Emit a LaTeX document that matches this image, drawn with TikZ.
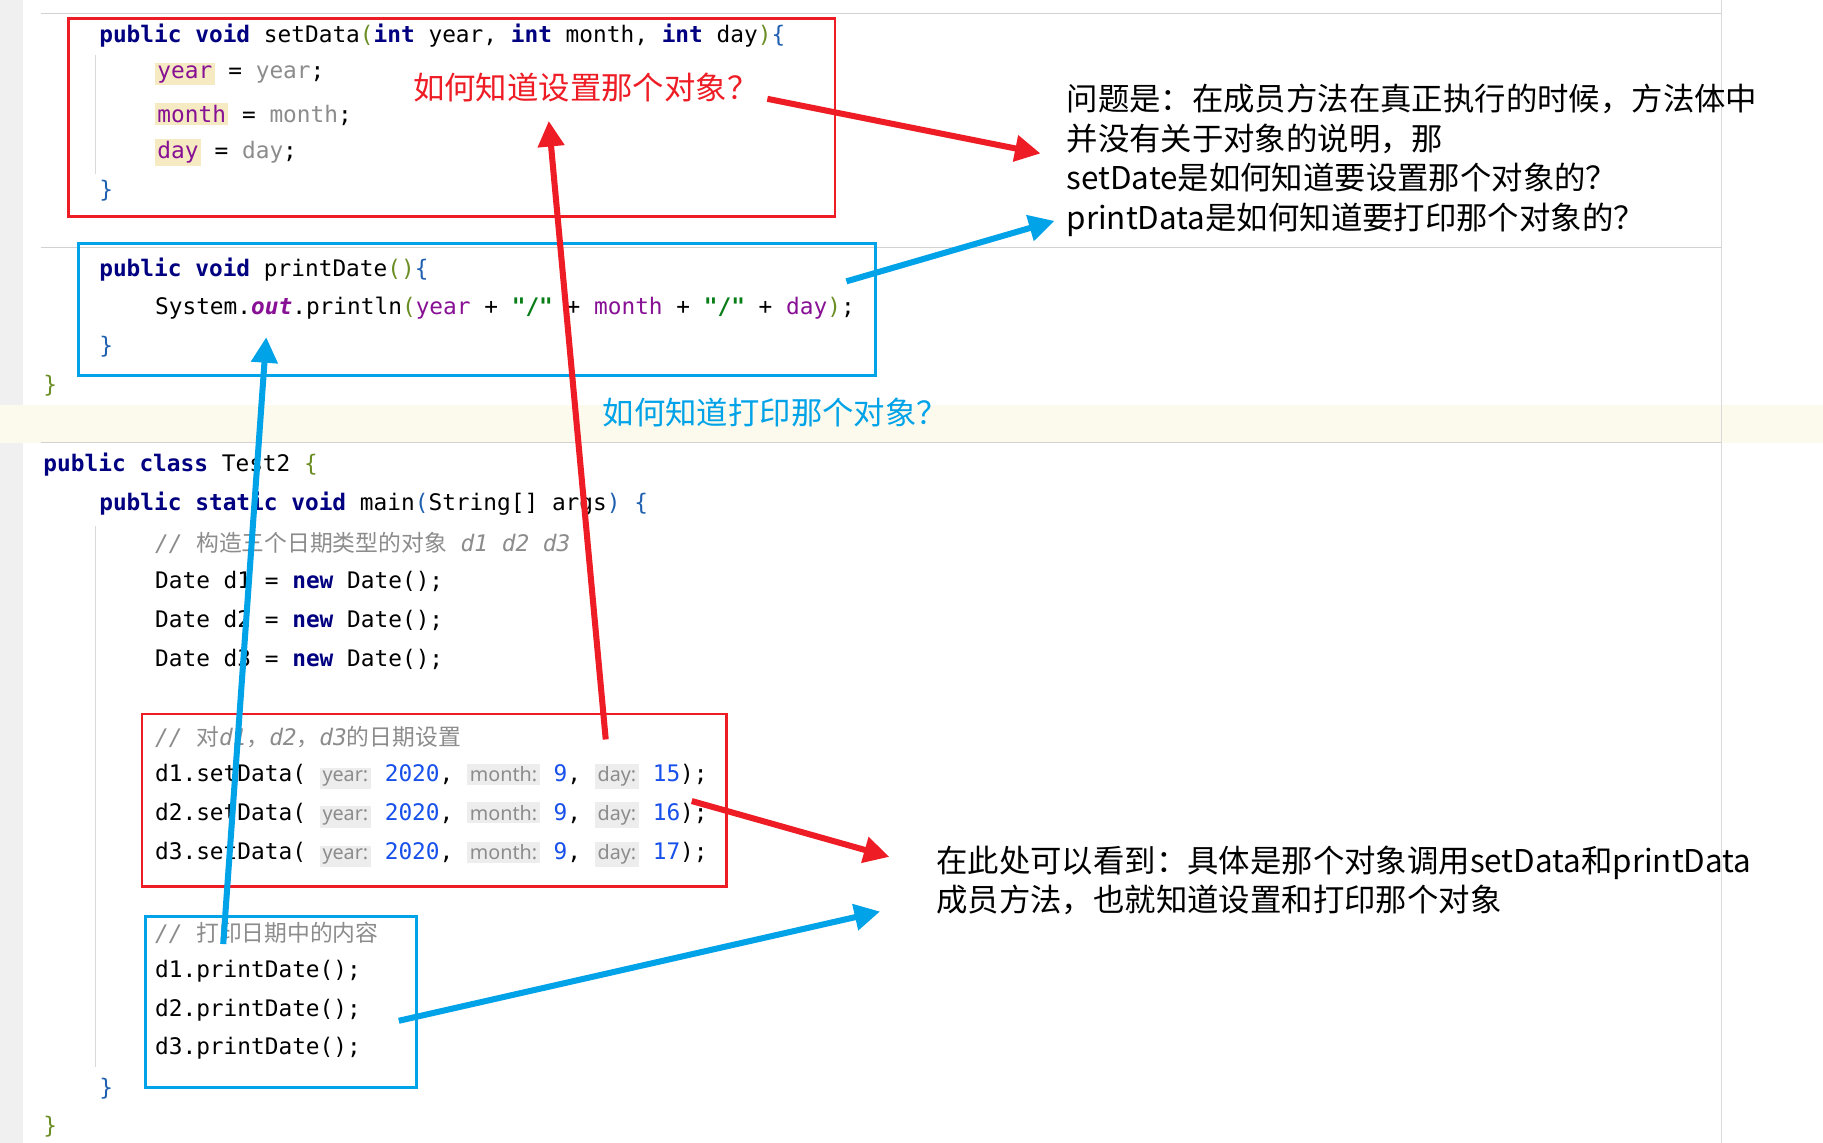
\documentclass[tikz,border=0pt]{standalone}
\usepackage{fontspec}
\setmonofont{DejaVu Sans Mono}
\setsansfont{Noto Sans}
\newfontfamily\cjk{Noto Sans CJK SC}
\usetikzlibrary{arrows.meta}
\definecolor{kw}{HTML}{0033B3}
\definecolor{kwd}{HTML}{000080}
\definecolor{num}{HTML}{1750EB}
\definecolor{str}{HTML}{067D17}
\definecolor{fld}{HTML}{871094}
\definecolor{cmt}{HTML}{8C8C8C}
\definecolor{hintbg}{HTML}{EDEDED}
\definecolor{hl}{HTML}{F5EAC1}
\definecolor{rowhl}{HTML}{FCFAED}
\definecolor{bA}{HTML}{6A8E23}
\definecolor{bB}{HTML}{1F5FAF}
\definecolor{myred}{HTML}{EE1C25}
\definecolor{myblue}{HTML}{00A2E8}
\newcommand{\K}[1]{{\bfseries\color{kwd}#1}}
\newcommand{\N}[1]{{\color{num}#1}}
\newcommand{\F}[1]{{\color{fld}#1}}
\newcommand{\Hn}[1]{{\setlength\fboxsep{1.2pt}\colorbox{hintbg}{\sffamily\color{cmt}\fontsize{8.5pt}{9pt}\selectfont #1}}}
\newcommand{\Y}[1]{{\setlength\fboxsep{1pt}\colorbox{hl}{\color{fld}#1}}}
\tikzset{
 code/.style={anchor=west,inner sep=0pt,font=\ttfamily\fontsize{9.8pt}{11pt}\selectfont},
 note/.style={anchor=west,inner sep=0pt,align=left,font=\cjk\fontsize{13.5pt}{17pt}\selectfont},
 redbox/.style={draw=myred,line width=1.2pt},
 bluebox/.style={draw=myblue,line width=1.2pt},
 redarr/.style={draw=myred,line width=2.6pt,-{Triangle[length=11pt,width=11pt]}},
 bluearr/.style={draw=myblue,line width=2.6pt,-{Triangle[length=11pt,width=11pt]}},
}
\begin{document}
\begin{tikzpicture}[x=0.5pt,y=-0.5pt]
\useasboundingbox (0,0) rectangle (1568,983);
\fill[white] (0,0) rectangle (1568,983);
\fill[gray!12] (0,0) rectangle (20,983);
\fill[rowhl] (0,348) rectangle (1568,381);
\draw[gray!35] (35,12) -- (1480,12) (35,213) -- (1480,213) (35,381) -- (1480,381);
\draw[gray!30] (1481,0) -- (1481,983);
\draw[gray!30] (82,47) -- (82,150) (82,452) -- (82,918);
% code
\node[code] (l1) at (85,31) {\K{public void} setData{\color{bA}(}\K{int} year, \K{int} month, \K{int} day{\color{bA})}{\color{bB}\{}};
\node[code] (l2) at (133,64) {\Y{year} = {\color{cmt}year};};
\node[code] (l3) at (133,98) {\Y{month} = {\color{cmt}month};};
\node[code] (l4) at (133,131) {\Y{day} = {\color{cmt}day};};
\node[code] (l5) at (85,164) {{\color{bB}\}}};
\node[code] (l6) at (85,232) {\K{public void} printDate{\color{bA}()}{\color{bB}\{}};
\node[code] (l7) at (133,265) {System.{\itshape\bfseries\color{fld}out}.println{\color{bA}(}\F{year} + {\bfseries\color{str}"/"} + \F{month} + {\bfseries\color{str}"/"} + \F{day}{\color{bA})};};
\node[code] (l8) at (85,298) {{\color{bB}\}}};
\node[code] (l9) at (37,332) {{\color{bA}\}}};
\node[code] (l10) at (37,400) {\K{public class} Test2 {\color{bA}\{}};
\node[code] (l11) at (85,433) {\K{public static void} main{\color{bB}(}String[] args{\color{bB})} {\color{bB}\{}};
\node[code] (l12) at (133,467) {{\color{cmt}\itshape // {\cjk 构造三个日期类型的对象} d1 d2 d3}};
\node[code] (l13) at (133,500) {Date d1 = \K{new} Date();};
\node[code] (l14) at (133,534) {Date d2 = \K{new} Date();};
\node[code] (l15) at (133,567) {Date d3 = \K{new} Date();};
\node[code] (l16) at (133,634) {{\color{cmt}\itshape // {\cjk 对}d1{\cjk ，}d2{\cjk ，}d3{\cjk 的日期设置}}};
\node[code] (l17) at (133,668) {d1.setData( \Hn{year:} \N{2020}, \Hn{month:} \N{9}, \Hn{day:} \N{15});};
\node[code] (l18) at (133,701) {d2.setData( \Hn{year:} \N{2020}, \Hn{month:} \N{9}, \Hn{day:} \N{16});};
\node[code] (l19) at (133,735) {d3.setData( \Hn{year:} \N{2020}, \Hn{month:} \N{9}, \Hn{day:} \N{17});};
\node[code] (l20) at (133,802) {{\color{cmt}\itshape // {\cjk 打印日期中的内容}}};
\node[code] (l21) at (133,835) {d1.printDate();};
\node[code] (l22) at (133,869) {d2.printDate();};
\node[code] (l23) at (133,902) {d3.printDate();};
\node[code] (l24) at (85,936) {{\color{bB}\}}};
\node[code] (l25) at (37,969) {{\color{bA}\}}};
% boxes
\node[redbox,inner sep=0pt,minimum width=329.5pt,minimum height=85pt,anchor=north west] (b1) at (58,15) {};
\node[bluebox,inner sep=0pt,minimum width=343pt,minimum height=57pt,anchor=north west] (b2) at (66,208) {};
\node[redbox,inner sep=0pt,minimum width=251.5pt,minimum height=74pt,anchor=north west] (b3) at (121,613) {};
\node[bluebox,inner sep=0pt,minimum width=116.5pt,minimum height=73.5pt,anchor=north west] (b4) at (124,787) {};
% labels
\node[note,text=myred] (q1) at (355,75) {如何知道设置那个对象？};
\node[note,text=myblue] (q2) at (518,355) {如何知道打印那个对象？};
\node[note,anchor=north west] (t1) at (917,72) {问题是：在成员方法在真正执行的时候，方法体中\\并没有关于对象的说明，那\\setDate是如何知道要设置那个对象的？\\printData是如何知道要打印那个对象的？};
\node[note,anchor=north west] (t2) at (805,727) {在此处可以看到：具体是那个对象调用setData和printData\\成员方法，也就知道设置和打印那个对象};
% arrows
\coordinate (r1s) at (660,85); \coordinate (r1e) at (895,132);
\coordinate (r2s) at (521,636); \coordinate (r2e) at (472,104);
\coordinate (r3s) at (595,689); \coordinate (r3e) at (765,737);
\coordinate (u1s) at (728,242); \coordinate (u1e) at (907,190);
\coordinate (u2s) at (192,812); \coordinate (u2e) at (229,290);
\coordinate (u3s) at (343,878); \coordinate (u3e) at (757,784);
\draw[redarr] (r1s) -- (r1e);
\draw[redarr] (r2s) -- (r2e);
\draw[redarr] (r3s) -- (r3e);
\draw[bluearr] (u1s) -- (u1e);
\draw[bluearr] (u2s) -- (u2e);
\draw[bluearr] (u3s) -- (u3e);
\end{tikzpicture}
\end{document}
